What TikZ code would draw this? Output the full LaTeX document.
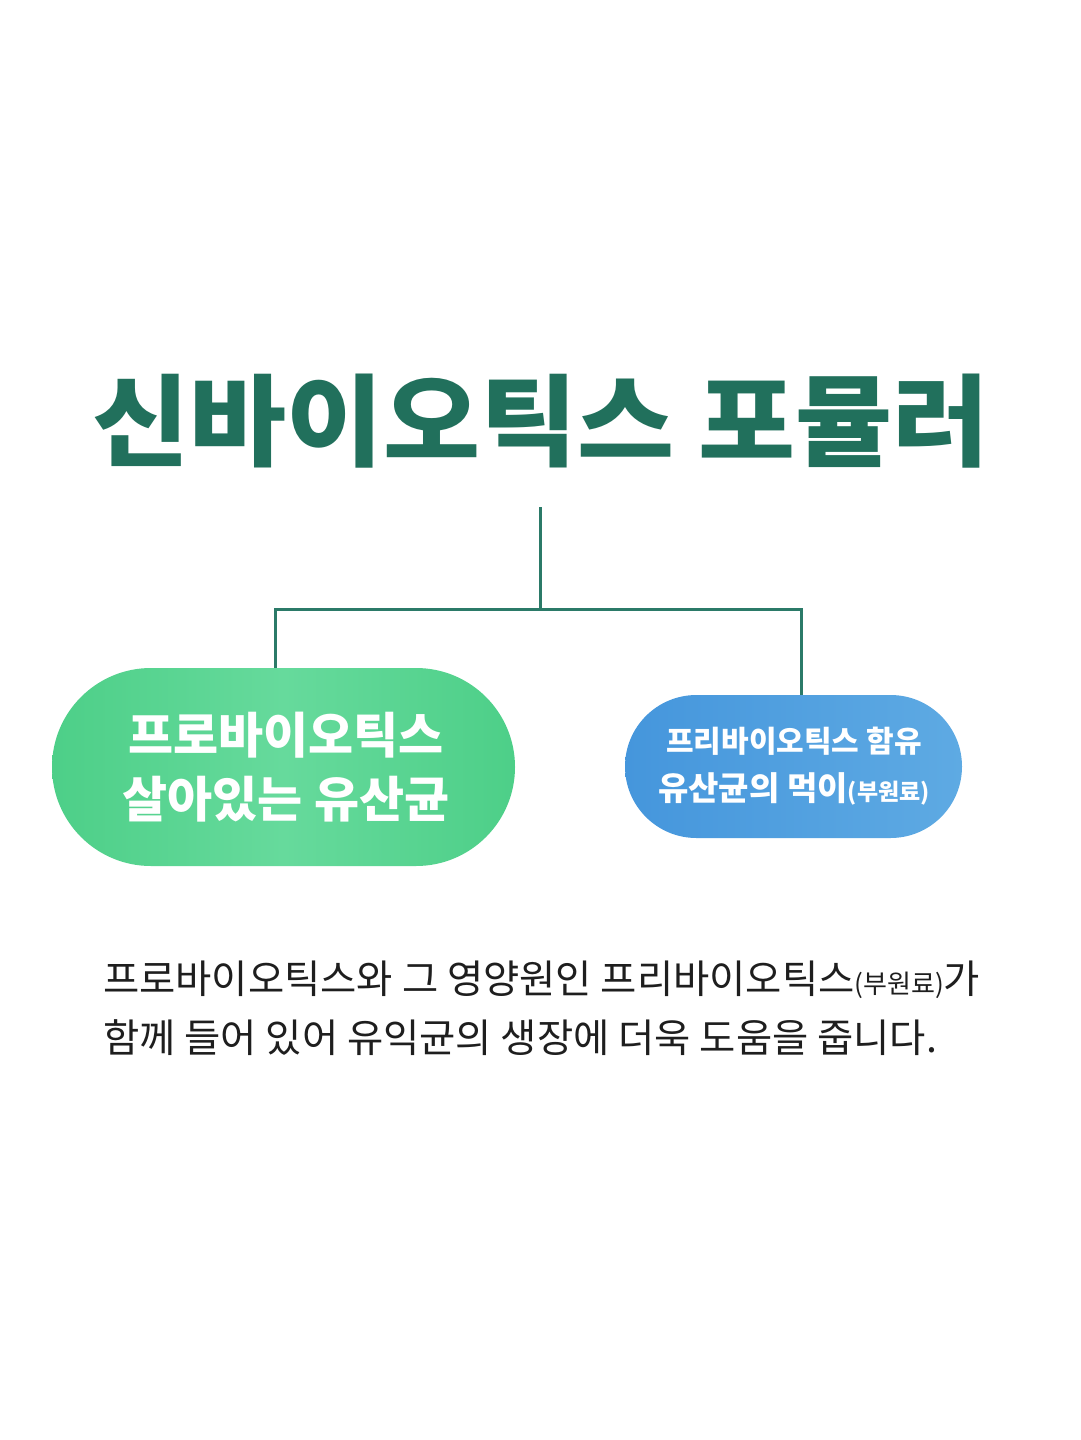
\documentclass[tikz,border=0pt]{standalone}
\usepackage{fontspec}
\newfontfamily\kr{Noto Sans CJK KR}
\newfontfamily\krblack{Noto Sans CJK KR Black}
\usetikzlibrary{positioning}
\definecolor{titlegreen}{HTML}{21705C}
\definecolor{linegreen}{HTML}{2B7A68}
\definecolor{pillgreenA}{HTML}{4DCF88}
\definecolor{pillgreenB}{HTML}{66DA9C}
\definecolor{pillblueA}{HTML}{4596DC}
\definecolor{pillblueB}{HTML}{5EAAE3}
\definecolor{bodytext}{HTML}{1E1E1E}
\tikzset{
  conn/.style={draw=linegreen, line width=3pt},
  pilltext/.style={text=white, align=center, inner sep=0pt},
}
\begin{document}
\begin{tikzpicture}[x=1pt,y=-1pt]
\useasboundingbox (0,0) rectangle (1080,1440);
\fill[white] (0,0) rectangle (1080,1440);
% title
\node[text=titlegreen, inner sep=0pt] (title) at (541,421)
  {\krblack\fontsize{100}{110}\selectfont\scalebox{1.055}[1]{신바이오틱스 포뮬러}};
% pills
\shade[left color=pillgreenA, right color=pillgreenA, middle color=pillgreenB, rounded corners=99pt]
  (52,668) rectangle (515,866);
\node[inner sep=0pt, minimum width=463pt, minimum height=198pt] (pro) at (283.5,767) {};
\shade[left color=pillblueA, right color=pillblueB, rounded corners=71.5pt]
  (625,695) rectangle (962,838);
\node[inner sep=0pt, minimum width=337pt, minimum height=143pt] (pre) at (793.5,766.5) {};
\node[pilltext, font=\kr\bfseries\fontsize{49}{64}\selectfont] (protext) at (286,767)
  {프로바이오틱스\\살아있는 유산균};
\node[pilltext, font=\kr\bfseries\fontsize{30}{48}\selectfont] (pretext) at (794,766)
  {프리바이오틱스 함유\\{\fontsize{33}{33}\selectfont 유산균의 먹이}{\fontsize{23}{23}\selectfont(부원료)}};
% connectors
\coordinate (j) at (540,609);
\coordinate (tb) at (540,507);
\draw[conn] (tb) -- (j);
\draw[conn] (pro.north -| 275,0) |- (j) -| (pre.north -| 801,0);
% body text
\node[text=bodytext, anchor=west, inner sep=0pt] (body1) at (103,980)
  {\kr\fontsize{39.4}{39.4}\selectfont 프로바이오틱스와 그 영양원인 프리바이오틱스{\fontsize{26}{26}\selectfont(부원료)}가};
\node[text=bodytext, anchor=west, inner sep=0pt] (body2) at (103,1038)
  {\kr\fontsize{39.4}{39.4}\selectfont 함께 들어 있어 유익균의 생장에 더욱 도움을 줍니다.};
\end{tikzpicture}
\end{document}
